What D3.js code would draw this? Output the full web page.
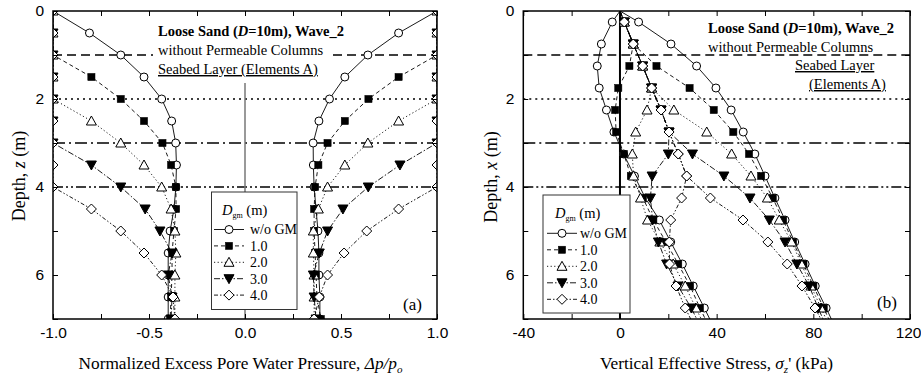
<!DOCTYPE html>
<html><head><meta charset="utf-8">
<script src="https://cdn.jsdelivr.net/npm/d3@7"></script>
<style>
body{margin:0;background:#fff;}
svg{display:block;font-family:"Liberation Serif","Times New Roman",serif;}
.tick text{font-family:"Liberation Sans",Arial,sans-serif;font-size:15.5px;fill:#000;}
.tick line{stroke:#000;stroke-width:1;}
</style></head><body>
<svg id="chart" width="921" height="378" font-family="Liberation Serif, Times New Roman, serif"></svg>
<script>
// ---------------- DATA ----------------
const seriesNames = ["w/o GM", "1.0", "2.0", "3.0", "4.0"];
const refDepths = [1, 2, 3, 4];

// Panel (a): normalized excess pore water pressure vs depth z
const depthA = [0, 0.5, 1, 1.5, 2, 2.5, 3, 3.5, 4, 4.5, 5, 5.5, 6, 6.5, 7];
const ppPosWoGM = [1.00, 0.80, 0.64, 0.52, 0.44, 0.385, 0.355, 0.356, 0.36, 0.37, 0.38, 0.385, 0.385, 0.39, 0.39];
const ppPosD1   = [1.00, 1.00, 1.00, 0.80, 0.643, 0.52, 0.43, 0.382, 0.365, 0.36, 0.36, 0.365, 0.37, 0.375, 0.395];
const ppPosD2   = [1.00, 1.00, 1.00, 1.00, 1.00, 0.80, 0.64, 0.52, 0.43, 0.382, 0.356, 0.356, 0.36, 0.36, 0.36];
const ppPosD3   = [1.00, 1.00, 1.00, 1.00, 1.00, 1.00, 1.00, 0.807, 0.642, 0.51, 0.43, 0.387, 0.356, 0.36, 0.37];
const ppPosD4   = [1.00, 1.00, 1.00, 1.00, 1.00, 1.00, 1.00, 1.00, 1.00, 0.80, 0.634, 0.516, 0.43, 0.387, 0.36];
const ppNegWoGM = [-1.00, -0.81, -0.647, -0.526, -0.434, -0.382, -0.361, -0.357, -0.36, -0.37, -0.39, -0.40, -0.40, -0.40, -0.40];
const ppNegD1   = [-1.00, -1.00, -1.00, -0.80, -0.647, -0.526, -0.43, -0.385, -0.36, -0.359, -0.37, -0.38, -0.38, -0.385, -0.39];
const ppNegD2   = [-1.00, -1.00, -1.00, -1.00, -1.00, -0.80, -0.647, -0.526, -0.434, -0.385, -0.365, -0.36, -0.365, -0.365, -0.365];
const ppNegD3   = [-1.00, -1.00, -1.00, -1.00, -1.00, -1.00, -1.00, -0.80, -0.647, -0.52, -0.443, -0.38, -0.40, -0.38, -0.385];
const ppNegD4   = [-1.00, -1.00, -1.00, -1.00, -1.00, -1.00, -1.00, -1.00, -1.00, -0.80, -0.647, -0.526, -0.434, -0.375, -0.365];

// Panel (b): vertical effective stress (kPa) vs depth x
const depthB = [0, 0.25, 0.75, 1.25, 1.75, 2.25, 2.75, 3.25, 3.75, 4.25, 4.75, 5.25, 5.75, 6.25, 6.75, 7.25];
const sgMinWoGM = [0, -3.2, -7.7, -9.4, -8.6, -5.6, -2.5, 1.5, 6.0, 10.5, 16.3, 21.0, 25.8, 30.3, 34.9, 39.4];
const sgMaxWoGM = [0, 7.7, 21.1, 31.7, 39.7, 46.0, 51.0, 55.8, 60.0, 64.1, 68.3, 72.3, 76.6, 80.8, 85.3, 89.6];
const sgMinD1   = [0, 1.8, 5.5, 3.9, -0.7, -2.0, -1.6, 1.6, 4.5, 9.5, 13.8, 19.0, 24.1, 29.0, 33.1, 37.5];
const sgMaxD1   = [0, 1.8, 5.5, 15.1, 28.8, 38.8, 46.9, 53.4, 58.4, 63.2, 67.5, 71.6, 75.9, 80.0, 84.3, 88.5];
const sgMinD2   = [0, 1.8, 5.5, 9.4, 13.1, 11.2, 6.5, 5.1, 5.6, 8.5, 11.4, 16.5, 22.0, 27.0, 31.4, 35.8];
const sgMaxD2   = [0, 1.8, 5.5, 9.4, 13.1, 22.3, 35.9, 46.2, 54.2, 61.0, 65.9, 71.0, 75.1, 79.0, 83.2, 87.3];
const sgMinD3   = [0, 1.8, 5.5, 9.4, 13.1, 17.0, 20.3, 20.0, 13.3, 12.6, 13.5, 15.9, 19.3, 24.0, 29.5, 34.0];
const sgMaxD3   = [0, 1.8, 5.5, 9.4, 13.1, 17.0, 20.3, 30.0, 43.0, 53.8, 61.8, 68.3, 73.2, 78.3, 82.0, 86.0];
const sgMinD4   = [0, 1.8, 5.5, 9.4, 13.1, 17.0, 20.3, 24.1, 27.6, 25.5, 21.0, 20.4, 20.5, 23.2, 27.0, 31.5];
const sgMaxD4   = [0, 1.8, 5.5, 9.4, 13.1, 17.0, 20.3, 24.1, 27.6, 37.4, 50.9, 61.2, 69.2, 75.3, 80.7, 85.5];

// Axis ticks
const ticksXA = [-1, -0.75, -0.5, -0.25, 0, 0.25, 0.5, 0.75, 1];
const labelsXA = [-1, -0.5, 0, 0.5, 1];
const ticksXB = [-40, -20, 0, 20, 40, 60, 80, 100, 120];
const labelsXB = [-40, 0, 40, 80, 120];
const ticksY = [0, 1, 2, 3, 4, 5, 6, 7];
const labelsY = [0, 2, 4, 6];

// ---------------- STYLES ----------------
const markerTypes = ["circle", "square", "tri", "tridown", "diamond"];
const seriesDash = [null, "4,3", "1.2,2.4", "6,2,1.5,2", "4,2,1.5,2,1.5,2"];
const refDash = ["9,5", "2,4", "12,4,2,4", "10,3,2,3,2,3"];

const svg = d3.select("#chart");
const yTop = 11, yBot = 319;
const y = d3.scaleLinear().domain([0, 7]).range([yTop, yBot]);
const xA = d3.scaleLinear().domain([-1, 1]).range([53, 437]);
const xB = d3.scaleLinear().domain([-40, 120]).range([523.3, 910]);

function drawMarker(g, type, cx, cy) {
  if (type === "circle") {
    g.append("circle").attr("cx", cx).attr("cy", cy).attr("r", 4)
      .attr("fill", "#fff").attr("stroke", "#000").attr("stroke-width", 1);
  } else if (type === "square") {
    g.append("rect").attr("x", cx - 3.6).attr("y", cy - 3.6).attr("width", 7.2).attr("height", 7.2)
      .attr("fill", "#000").attr("stroke", "#000").attr("stroke-width", 0.5);
  } else if (type === "tri") {
    g.append("path").attr("d", `M${cx},${cy-5}L${cx+5},${cy+4}L${cx-5},${cy+4}Z`)
      .attr("fill", "#fff").attr("stroke", "#000").attr("stroke-width", 1);
  } else if (type === "tridown") {
    g.append("path").attr("d", `M${cx},${cy+5}L${cx+5},${cy-4}L${cx-5},${cy-4}Z`)
      .attr("fill", "#000").attr("stroke", "#000").attr("stroke-width", 1);
  } else if (type === "diamond") {
    g.append("path").attr("d", `M${cx},${cy-5}L${cx+5},${cy}L${cx},${cy+5}L${cx-5},${cy}Z`)
      .attr("fill", "#fff").attr("stroke", "#000").attr("stroke-width", 1);
  }
}

function frameAndAxes(x, ticksX, labelsX, fmtX) {
  const near = (arr, d) => arr.some(v => Math.abs(v - d) < 1e-9);
  const x0 = x.range()[0], x1 = x.range()[1];
  const gb = svg.append("g").attr("transform", `translate(0,${yBot})`)
    .call(d3.axisBottom(x).tickValues(ticksX).tickSize(-5).tickPadding(8)
      .tickFormat(d => near(labelsX, d) ? fmtX(d) : ""));
  // keep the right-most label inside the page
  gb.selectAll(".tick text").filter(d => x(d) > 900).attr("text-anchor", "end").attr("x", 11);
  const gt = svg.append("g").attr("transform", `translate(0,${yTop})`)
    .call(d3.axisTop(x).tickValues(ticksX).tickSize(-5).tickFormat(() => ""));
  const gl = svg.append("g").attr("transform", `translate(${x0},0)`)
    .call(d3.axisLeft(y).tickValues(ticksY).tickSize(-5).tickPadding(9)
      .tickFormat(d => near(labelsY, d) ? String(d) : ""));
  const gr = svg.append("g").attr("transform", `translate(${x1},0)`)
    .call(d3.axisRight(y).tickValues(ticksY).tickSize(-5).tickFormat(() => ""));
  [gb, gt, gl, gr].forEach(g => g.select(".domain").remove());
  svg.append("rect").attr("x", x0).attr("y", yTop).attr("width", x1 - x0).attr("height", yBot - yTop)
    .attr("fill", "none").attr("stroke", "#000").attr("stroke-width", 1.5);
}

function refLines(x) {
  refDepths.forEach((d, i) => {
    svg.append("line").attr("x1", x.range()[0]).attr("x2", x.range()[1])
      .attr("y1", y(d)).attr("y2", y(d))
      .attr("stroke", "#000").attr("stroke-width", 1.4).attr("stroke-dasharray", refDash[i]);
  });
}

function clipFor(id, x) {
  svg.append("clipPath").attr("id", id).append("rect")
    .attr("x", x.range()[0]).attr("y", yTop)
    .attr("width", x.range()[1] - x.range()[0]).attr("height", yBot - yTop);
}

function drawSeries(g, x, depths, vals, si, markerIdx) {
  const line = d3.line().x((d, i) => x(d)).y((d, i) => y(depths[i]));
  g.append("path").attr("d", line(vals)).attr("fill", "none")
    .attr("stroke", "#000").attr("stroke-width", 0.9)
    .attr("stroke-dasharray", seriesDash[si]);
  vals.forEach((v, i) => {
    if (markerIdx(i)) drawMarker(g, markerTypes[si], x(v), y(depths[i]));
  });
}

function legend(bx, by, bw, bh, lineX0, lineX1, textX, titleY, itemY0, step) {
  svg.append("rect").attr("x", bx).attr("y", by).attr("width", bw).attr("height", bh)
    .attr("fill", "#fff").attr("stroke", "#333").attr("stroke-width", 1);
  const t = svg.append("text").attr("x", lineX0 + 8).attr("y", titleY).attr("font-size", 14.5);
  t.append("tspan").attr("font-style", "italic").text("D");
  t.append("tspan").attr("font-size", 8).attr("dy", 3).text("gm");
  t.append("tspan").attr("dy", -3).text(" (m)");
  seriesNames.forEach((name, i) => {
    const cy = itemY0 + i * step;
    svg.append("line").attr("x1", lineX0).attr("x2", lineX1).attr("y1", cy).attr("y2", cy)
      .attr("stroke", "#000").attr("stroke-width", 0.9).attr("stroke-dasharray", seriesDash[i]);
    drawMarker(svg.append("g"), markerTypes[i], (lineX0 + lineX1) / 2, cy);
    svg.append("text").attr("x", textX).attr("y", cy + 4.8).attr("font-size", 14).text(name);
  });
}

// ---------------- PANEL (a) ----------------
refLines(xA);
svg.append("rect").attr("x", 153).attr("y", 18).attr("width", 176).attr("height", 62).attr("fill", "#fff");
svg.append("line").attr("x1", xA(0)).attr("x2", xA(0)).attr("y1", 83).attr("y2", yBot)
  .attr("stroke", "#777").attr("stroke-width", 1.5);

clipFor("clipA", xA);
const gA = svg.append("g").attr("clip-path", "url(#clipA)");
const posA = [ppPosWoGM, ppPosD1, ppPosD2, ppPosD3, ppPosD4];
const negA = [ppNegWoGM, ppNegD1, ppNegD2, ppNegD3, ppNegD4];
for (let s = 0; s < 5; s++) {
  drawSeries(gA, xA, depthA, posA[s], s, () => true);
  drawSeries(gA, xA, depthA, negA[s], s, () => true);
}

frameAndAxes(xA, ticksXA, labelsXA, d => d.toFixed(1));

// texts panel a
const ta = svg.append("text").attr("x", 158).attr("y", 35.5).attr("font-size", 14.5).attr("font-weight", "bold");
ta.append("tspan").text("Loose Sand (");
ta.append("tspan").attr("font-style", "italic").text("D");
ta.append("tspan").text("=10m), Wave_2");
svg.append("text").attr("x", 158).attr("y", 54.5).attr("font-size", 14.5).text("without Permeable Columns");
svg.append("text").attr("x", 158).attr("y", 74).attr("font-size", 14.5).attr("text-decoration", "underline").text("Seabed Layer (Elements A)");
svg.append("text").attr("x", 403).attr("y", 310).attr("font-size", 17).text("(a)");

legend(211.5, 192, 85.5, 117.5, 214, 244, 250, 214.5, 229.5, 16.4);

// axis titles panel a
const xla = svg.append("text").attr("x", 240.5).attr("y", 369).attr("font-size", 17.3).attr("text-anchor", "middle");
xla.append("tspan").text("Normalized Excess Pore Water Pressure, ");
xla.append("tspan").attr("font-style", "italic").text("\u0394p/p");
xla.append("tspan").attr("font-style", "italic").attr("font-size", 11).attr("dy", 4).text("o");
const yla = svg.append("text").attr("transform", "translate(25,176) rotate(-90)").attr("font-size", 18).attr("text-anchor", "middle");
yla.append("tspan").text("Depth, ");
yla.append("tspan").attr("font-style", "italic").text("z");
yla.append("tspan").text(" (m)");

// ---------------- PANEL (b) ----------------
refLines(xB);
svg.append("line").attr("x1", xB(0)).attr("x2", xB(0)).attr("y1", yTop).attr("y2", yBot)
  .attr("stroke", "#000").attr("stroke-width", 2);

clipFor("clipB", xB);
const gB = svg.append("g").attr("clip-path", "url(#clipB)");
const minB = [sgMinWoGM, sgMinD1, sgMinD2, sgMinD3, sgMinD4];
const maxB = [sgMaxWoGM, sgMaxD1, sgMaxD2, sgMaxD3, sgMaxD4];
const innerIdx = i => i > 0 && i < depthB.length - 1;
for (let s = 0; s < 5; s++) {
  drawSeries(gB, xB, depthB, minB[s], s, innerIdx);
  drawSeries(gB, xB, depthB, maxB[s], s, innerIdx);
}

frameAndAxes(xB, ticksXB, labelsXB, d => String(d));

const tb = svg.append("text").attr("x", 708).attr("y", 33).attr("font-size", 14.5).attr("font-weight", "bold");
tb.append("tspan").text("Loose Sand (");
tb.append("tspan").attr("font-style", "italic").text("D");
tb.append("tspan").text("=10m), Wave_2");
svg.append("text").attr("x", 708).attr("y", 51.5).attr("font-size", 14.5).text("without Permeable Columns");
svg.append("text").attr("x", 795).attr("y", 70).attr("font-size", 14.5).attr("text-decoration", "underline").text("Seabed Layer");
svg.append("text").attr("x", 809).attr("y", 89).attr("font-size", 14.5).attr("text-decoration", "underline").text("(Elements A)");
svg.append("text").attr("x", 877).attr("y", 308).attr("font-size", 17).text("(b)");

legend(543, 195, 87, 118, 547, 577, 580, 217.5, 233.3, 16.5);

const xlb = svg.append("text").attr("x", 716.5).attr("y", 369).attr("font-size", 17.3).attr("text-anchor", "middle");
xlb.append("tspan").text("Vertical Effective Stress, ");
xlb.append("tspan").attr("font-style", "italic").text("\u03C3");
xlb.append("tspan").attr("font-style", "italic").attr("font-size", 11).attr("dy", 4).text("z");
xlb.append("tspan").attr("dy", -4).text("' (kPa)");
const ylb = svg.append("text").attr("transform", "translate(497,177) rotate(-90)").attr("font-size", 18).attr("text-anchor", "middle");
ylb.append("tspan").text("Depth, ");
ylb.append("tspan").attr("font-style", "italic").text("x");
ylb.append("tspan").text(" (m)");
</script>
</body></html>
